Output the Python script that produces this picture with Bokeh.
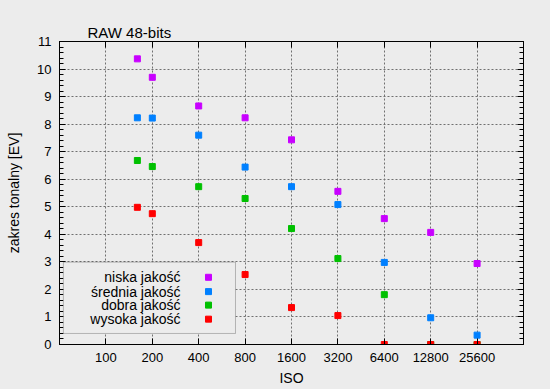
from bokeh.plotting import figure
from bokeh.embed import file_html
from bokeh.resources import INLINE
from bokeh.models import (FixedTicker, LinearAxis, LogAxis, NumeralTickFormatter,
                          BoxAnnotation, Label, Range1d, CustomJSTickFormatter)

# ---- data ----
iso = [160, 200, 400, 800, 1600, 3200, 6400, 12800, 25600]
niska = [10.37, 9.70, 8.66, 8.23, 7.43, 5.56, 4.57, 4.07, 2.94]
srednia = [8.23, 8.22, 7.60, 6.44, 5.73, 5.08, 2.98, 0.97, 0.34]
dobra = [6.68, 6.46, 5.73, 5.30, 4.21, 3.12, 1.81, 0.0, 0.0]
wysoka = [4.98, 4.75, 3.70, 2.54, 1.34, 1.05, 0.0, 0.0, 0.0]
series_names = ["niska jakość", "średnia jakość", "dobra jakość", "wysoka jakość"]
series_colors = ["#c800ff", "#0080ff", "#00c000", "#ff0000"]
x_ticks = [100, 200, 400, 800, 1600, 3200, 6400, 12800, 25600]
y_ticks = list(range(0, 12))
y_minor = [i * 0.2 for i in range(56)]

BG = "#ececec"
FONT = "Liberation Sans"

p = figure(frame_width=464, frame_height=303, x_axis_type="log",
           x_range=Range1d(50, 51200), y_range=Range1d(0, 11),
           output_backend="svg", toolbar_location=None,
           min_border_left=59, min_border_right=12,
           min_border_top=41, min_border_bottom=30,
           background_fill_color=BG, border_fill_color=BG)
p.outline_line_color = "black"

p.title.text = "RAW 48-bits"
p.title.align = "left"
p.title.offset = 28
p.title.text_font = FONT
p.title.text_font_size = "15px"
p.title.text_font_style = "normal"
p.title.text_color = "black"
p.title.standoff = 2

xaxis = p.below[0]
yaxis = p.left[0]

xaxis.ticker = FixedTicker(ticks=x_ticks, minor_ticks=[])
xaxis.formatter = NumeralTickFormatter(format="0")
xaxis.axis_label = "ISO"
yaxis.ticker = FixedTicker(ticks=y_ticks, minor_ticks=y_minor)
yaxis.axis_label = "zakres tonalny [EV]"

blank = CustomJSTickFormatter(code="return ''")
right = LinearAxis(ticker=FixedTicker(ticks=y_ticks, minor_ticks=y_minor), formatter=blank)
top = LogAxis(ticker=FixedTicker(ticks=x_ticks, minor_ticks=[]), formatter=blank)
p.add_layout(right, "right")
p.add_layout(top, "above")

for ax in [xaxis, yaxis, right, top]:
    ax.major_tick_in = 6
    ax.major_tick_out = 0
    ax.minor_tick_in = 4
    ax.minor_tick_out = 0
    ax.axis_line_color = "black"
    ax.major_tick_line_color = "black"
    ax.minor_tick_line_color = "black"
    ax.major_label_text_font = FONT
    ax.major_label_text_font_size = "13px"
    ax.major_label_text_color = "black"
    ax.axis_label_text_font = FONT
    ax.axis_label_text_font_size = "14px"
    ax.axis_label_text_font_style = "normal"
    ax.axis_label_text_color = "black"
    ax.major_label_standoff = 8
right.major_label_standoff = 0
top.major_label_standoff = 0
xaxis.major_label_standoff = 8
xaxis.axis_label_standoff = 5
yaxis.axis_label_standoff = 12

p.xgrid.grid_line_color = "#707070"
p.ygrid.grid_line_color = "#707070"
p.xgrid.grid_line_dash = "2 2"
p.ygrid.grid_line_dash = "2 2"

# data points
for ys, c in zip([niska, srednia, dobra, wysoka], series_colors):
    p.scatter(iso, ys, marker="square", size=6, fill_color=c, line_color=c)

# custom legend (glyph on the right, as in the reference)
legend_box = BoxAnnotation(left=53, right=693, bottom=0.40, top=2.99,
                           fill_color=BG, fill_alpha=1.0,
                           line_color="#333333", line_width=1)
p.add_layout(legend_box)
legend_y = [2.44, 1.92, 1.43, 0.92]
for name, yy in zip(series_names, legend_y):
    p.add_layout(Label(x=305, y=yy, text=name, text_align="right",
                       text_baseline="middle", text_font=FONT,
                       text_font_size="14px", text_color="black"))
leg_pts = p.scatter([463] * 4, legend_y, marker="square", size=6,
                    fill_color=series_colors, line_color=series_colors)
leg_pts.level = "overlay"

html = file_html(p, INLINE)
i = html.rfind("<body")
html = html[:i] + '<body style="background-color:#ececec"' + html[i + 5:]
open("out.html", "w").write(html)
